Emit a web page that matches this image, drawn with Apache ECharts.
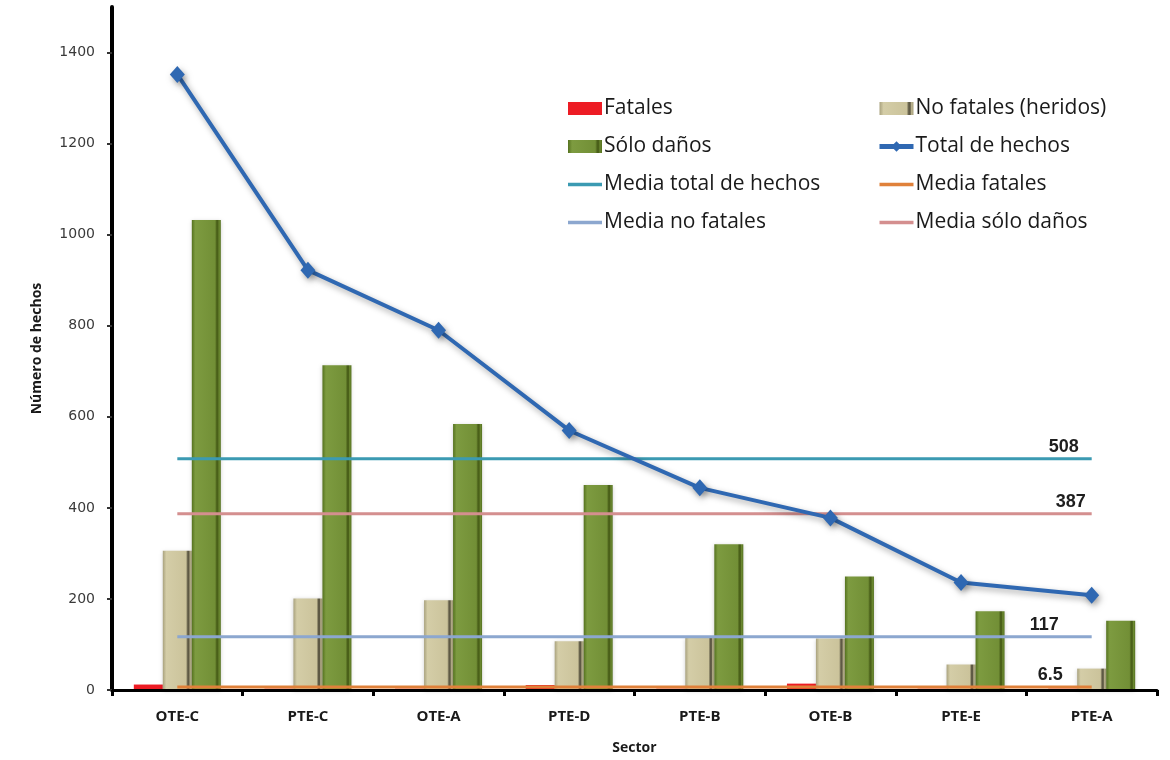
<!DOCTYPE html>
<html>
<head>
<meta charset="utf-8">
<script src="https://cdn.jsdelivr.net/npm/echarts@6/dist/echarts.min.js"></script>
<style>
  html, body { margin: 0; padding: 0; background: #ffffff; }
  #chart { width: 1170px; height: 760px; }
</style>
</head>
<body>
<div id="chart"></div>
<script>
// Sectores y número de hechos por tipo
const sectors = ['OTE-C', 'PTE-C', 'OTE-A', 'PTE-D', 'PTE-B', 'OTE-B', 'PTE-E', 'PTE-A'];
const fatales = [12, 3, 3, 11, 3, 14, 3, 3];
const noFatales = [306, 201, 197, 107, 114, 113, 56, 47];
const soloDanos = [1032, 713, 584, 450, 320, 249, 173, 152];
const totalHechos = [1352, 922, 790, 570, 444, 378, 236, 208];

// Medias de referencia
const mediaTotal = 508;
const mediaFatales = 6.5;
const mediaNoFatales = 117;
const mediaSoloDanos = 387;

const yTicks = [0, 200, 400, 600, 800, 1000, 1200, 1400];

const chart = echarts.init(document.getElementById('chart'));

function bevel(edge, light, main, dark, tail) {
  return new echarts.graphic.LinearGradient(0, 0, 1, 0, [
    { offset: 0, color: edge },
    { offset: 0.12, color: light },
    { offset: 0.8, color: main },
    { offset: 0.86, color: dark },
    { offset: 0.9, color: dark },
    { offset: 0.94, color: tail },
    { offset: 1, color: edge }
  ]);
}

// Línea horizontal de media, rotulada al final
function meanSeries(name, value, color, labelOffset) {
  return {
    name: name,
    type: 'line',
    data: sectors.map(function () { return value; }),
    symbol: 'none',
    z: 3,
    lineStyle: { color: color, width: 3 },
    itemStyle: { color: color },
    emphasis: { disabled: true },
    endLabel: {
      show: true,
      formatter: String(value),
      align: 'right',
      verticalAlign: 'bottom',
      distance: 0,
      offset: [labelOffset, -3],
      fontFamily: 'Liberation Sans',
      fontWeight: 'bold',
      fontSize: 18,
      color: '#1e1e1e'
    }
  };
}

// Icono de leyenda para las líneas de media: trazo horizontal grueso
const lineIcon = 'path://M0,0 L34,0 L34,3.4 L0,3.4 Z';

const legendText = {
  fontFamily: 'Open Sans',
  fontSize: 21,
  color: '#1a1a1a',
  lineHeight: 20,
  padding: [0, 0, 0, -3]
};

const legendBase = {
  orient: 'vertical',
  top: 93,
  itemWidth: 34,
  itemHeight: 13,
  itemGap: 17,
  textStyle: legendText,
  lineStyle: { width: 5 }
};

const option = {
  animation: false,
  backgroundColor: '#ffffff',
  grid: { left: 112, right: 13, top: 7, bottom: 67 },
  legend: [
    Object.assign({}, legendBase, {
      left: 563,
      data: [
        { name: 'Fatales', icon: 'rect' },
        { name: 'Sólo daños', icon: 'rect' },
        { name: 'Media total de hechos', icon: lineIcon },
        { name: 'Media no fatales', icon: lineIcon }
      ]
    }),
    Object.assign({}, legendBase, {
      left: 872,
      data: [
        { name: 'No fatales (heridos)', icon: 'rect' },
        { name: 'Total de hechos' },
        { name: 'Media fatales', icon: lineIcon },
        { name: 'Media sólo daños', icon: lineIcon }
      ]
    })
  ],
  xAxis: {
    type: 'category',
    data: sectors,
    z: 5,
    name: 'Sector',
    nameLocation: 'middle',
    nameGap: 51,
    nameTextStyle: { fontFamily: 'Open Sans', fontWeight: 'bold', fontSize: 14, color: '#1a1a1a' },
    axisLine: { lineStyle: { color: '#000000', width: 3 } },
    axisTick: { show: true, length: 6, lineStyle: { color: '#000000', width: 3 } },
    axisLabel: { fontFamily: 'Open Sans', fontWeight: 'bold', fontSize: 15, color: '#1a1a1a', margin: 19 }
  },
  yAxis: {
    type: 'value',
    min: 0,
    max: 1500,
    z: 5,
    name: 'Número de hechos',
    nameLocation: 'middle',
    nameGap: 68,
    nameTextStyle: { fontFamily: 'Open Sans', fontWeight: 'bold', fontSize: 14, color: '#1a1a1a' },
    axisLine: { show: true, lineStyle: { color: '#000000', width: 4 } },
    axisTick: { show: true, length: 5, customValues: yTicks, lineStyle: { color: '#333333', width: 2 } },
    axisLabel: {
      customValues: yTicks,
      formatter: function (v) { return String(v); },
      fontFamily: 'DejaVu Sans',
      fontSize: 14,
      color: '#3a3a3a',
      margin: 17
    },
    splitLine: { show: false }
  },
  series: [
    {
      name: 'Fatales',
      type: 'bar',
      data: fatales,
      barWidth: 29,
      barGap: '0%',
      itemStyle: { color: '#ed1c24' }
    },
    {
      name: 'No fatales (heridos)',
      type: 'bar',
      data: noFatales,
      barWidth: 29,
      barGap: '0%',
      itemStyle: {
        color: bevel('#a9a27e', '#d4cda7', '#cbc39b', '#5f5a45', '#b8b08b'),
        shadowBlur: 4,
        shadowColor: 'rgba(0,0,0,0.18)',
        shadowOffsetY: 1
      }
    },
    {
      name: 'Sólo daños',
      type: 'bar',
      data: soloDanos,
      barWidth: 29,
      barGap: '0%',
      itemStyle: {
        color: bevel('#55721f', '#7d9b40', '#728f36', '#4a6019', '#6c8931'),
        shadowBlur: 4,
        shadowColor: 'rgba(0,0,0,0.18)',
        shadowOffsetY: 1
      }
    },
    meanSeries('Media total de hechos', mediaTotal, '#3b9ab2', -13),
    meanSeries('Media fatales', mediaFatales, '#e0813a', -29),
    meanSeries('Media no fatales', mediaNoFatales, '#8ca7cf', -33),
    meanSeries('Media sólo daños', mediaSoloDanos, '#d48f8f', -6),
    {
      name: 'Total de hechos',
      type: 'line',
      data: totalHechos,
      z: 4,
      symbol: 'diamond',
      symbolSize: [15, 17],
      lineStyle: {
        color: '#2f68b2',
        width: 4,
        shadowBlur: 6,
        shadowColor: 'rgba(0,0,0,0.35)',
        shadowOffsetX: 2,
        shadowOffsetY: 3
      },
      itemStyle: {
        color: '#2f68b2',
        shadowBlur: 6,
        shadowColor: 'rgba(0,0,0,0.35)',
        shadowOffsetX: 2,
        shadowOffsetY: 3
      }
    }
  ]
};

chart.setOption(option);
</script>
</body>
</html>
